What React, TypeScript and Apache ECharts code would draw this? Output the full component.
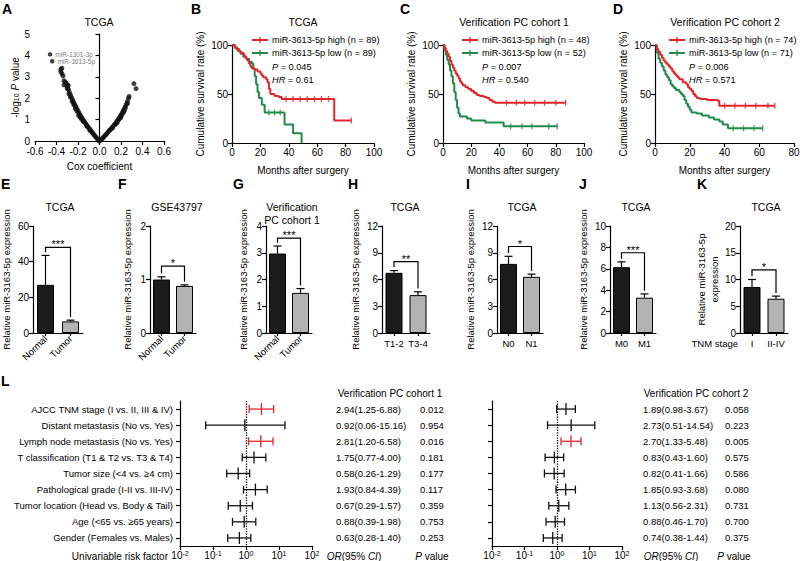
import React, { useEffect, useRef } from 'react';
import * as echarts from 'echarts';

const FONT = '"Liberation Sans", Arial, sans-serif';
const RED = '#e3262b';
const GREEN = '#1e8c4a';
const BLACK = '#1b1b1b';
const GRAY = '#b3b3b3';

// ---------- A: volcano ----------
const A_POINTS: number[][] = [
  [0, 0], [0.01, 0.03], [-0.01, 0.04], [0.02, 0.08], [-0.02, 0.1], [0.03, 0.13], [-0.03, 0.16], [0.04, 0.19],
  [-0.04, 0.22], [0.05, 0.25], [-0.05, 0.28], [0.06, 0.3], [-0.06, 0.35], [0.07, 0.36], [-0.07, 0.41], [0.08, 0.42],
  [-0.08, 0.48], [0.09, 0.48], [-0.09, 0.55], [0.1, 0.53], [-0.1, 0.61], [0.11, 0.59], [-0.11, 0.68], [0.12, 0.65],
  [-0.12, 0.75], [0.13, 0.71], [-0.13, 0.82], [0.14, 0.77], [-0.14, 0.9], [0.15, 0.83], [-0.15, 0.97], [0.16, 0.9],
  [-0.16, 1.05], [0.17, 0.97], [-0.17, 1.13], [0.18, 1.05], [-0.18, 1.22], [0.19, 1.13], [-0.19, 1.31], [0.2, 1.21],
  [-0.2, 1.4], [0.21, 1.3], [-0.21, 1.5], [0.22, 1.4], [-0.22, 1.6], [0.23, 1.5], [-0.23, 1.7], [0.24, 1.61],
  [-0.24, 1.8], [0.25, 1.72], [-0.25, 1.92], [0.26, 1.85], [-0.26, 2.03], [0.27, 2.0], [-0.27, 2.15], [0.275, 2.08],
  [-0.28, 2.28], [-0.29, 2.42], [-0.3, 2.55], [-0.31, 2.65], [-0.32, 2.75], [-0.33, 2.82], [-0.34, 3.05], [-0.35, 3.15],
  [-0.36, 3.25], [-0.36, 3.35], [-0.35, 3.4], [0.32, 2.68], [0.34, 2.45],
  [-0.15, 0.9], [-0.18, 1.1], [-0.21, 1.4], [-0.24, 1.7], [-0.27, 2.05], [-0.3, 2.45], [-0.31, 2.7], [-0.29, 2.6],
  [-0.33, 2.62], [-0.12, 0.7], [-0.09, 0.5], [0.12, 0.6], [0.15, 0.78], [0.18, 1.0], [0.21, 1.25], [0.24, 1.55],
  [0.2, 1.15], [0.23, 1.42], [0.26, 1.75], [-0.165, 1.0], [-0.195, 1.2], [-0.225, 1.52], [-0.255, 1.85],
  [-0.285, 2.2], [0.165, 0.86], [0.195, 1.08], [0.225, 1.35],
];
const A_HIGHLIGHT: number[][] = [[-0.46, 4.05], [-0.44, 3.73]];
const A_HIGHLIGHT_NAMES = ['miR-1301-3p', 'miR-3613-5p'];

// ---------- B-D: Kaplan-Meier ----------
const B_HIGH = [[0, 100], [2, 98], [3, 96], [5, 94], [6, 92], [8, 90], [9, 88], [10, 86], [11, 84], [12, 81], [13, 78], [14, 76], [16, 75], [18, 73], [20, 71], [21, 69], [22, 67], [24, 65], [25, 62], [26, 55], [27, 50], [30, 48], [33, 47], [35, 45], [72, 23], [84, 23]];
const B_LOW = [[0, 100], [2, 97], [4, 94], [6, 91], [8, 88], [10, 86], [12, 83], [14, 81], [15, 76], [16, 68], [17, 60], [18, 52], [19, 46], [21, 39], [23, 31], [37, 19], [43, 10], [49, 0]];
const B_HIGH_CENSOR = [[38, 45], [43, 45], [48, 45], [53, 45], [58, 45], [63, 45], [68, 45], [84, 23]];
const B_LOW_CENSOR = [[26, 31], [30, 31], [34, 31]];
const B_N = [89, 89];
const B_P = '0.045';
const B_HR = '0.61';

const C_HIGH = [[0, 100], [1, 97], [2, 94], [3, 91], [4, 88], [5, 84], [6, 80], [7, 77], [8, 74], [9, 71], [10, 69], [11, 66], [12, 63], [13, 61], [14, 59], [16, 57], [18, 55], [20, 53], [22, 51], [24, 49], [26, 48], [29, 47], [31, 46], [33, 44], [35, 42], [37, 41], [87, 41]];
const C_LOW = [[0, 100], [1, 95], [2, 90], [3, 85], [4, 80], [5, 74], [6, 68], [7, 61], [8, 52], [9, 44], [10, 36], [11, 30], [12, 27], [17, 25], [20, 23], [30, 21], [43, 17], [81, 17]];
const C_HIGH_CENSOR = [[45, 41], [52, 41], [58, 41], [65, 41], [72, 41], [80, 41], [87, 41]];
const C_LOW_CENSOR = [[48, 17], [56, 17], [63, 17], [75, 17], [81, 17]];
const C_N = [48, 52];
const C_P = '0.007';
const C_HR = '0.540';

const D_HIGH = [[0, 100], [1, 96], [2, 93], [3, 90], [4, 87], [5, 84], [6, 82], [7, 80], [8, 78], [9, 76], [10, 73], [11, 71], [12, 69], [13, 67], [14, 65], [16, 62], [18, 60], [19, 57], [20, 55], [21, 53], [22, 50], [23, 48], [24, 46], [26, 45], [30, 44], [36, 43], [37, 38], [69, 38]];
const D_LOW = [[0, 100], [1, 92], [2, 86], [3, 82], [4, 78], [5, 74], [6, 70], [7, 67], [8, 64], [9, 60], [10, 58], [11, 56], [12, 54], [14, 52], [15, 50], [16, 48], [17, 44], [18, 40], [19, 37], [20, 34], [21, 31], [24, 30], [27, 28], [31, 26], [34, 24], [37, 22], [39, 19], [42, 15], [62, 15]];
const D_HIGH_CENSOR = [[40, 38], [46, 38], [52, 38], [58, 38], [65, 38], [69, 38]];
const D_LOW_CENSOR = [[45, 15], [51, 15], [57, 15], [62, 15]];
const D_N = [74, 71];
const D_P = '0.006';
const D_HR = '0.571';

// ---------- E-K: bar charts ----------
const E_CATS = ['Normal', 'Tumor']; const E_MEAN = [27, 6.5]; const E_UPPER = [43.5, 7.2]; const E_BRACKET = 48; const E_SIG = '***';
const F_CATS = ['Normal', 'Tumor']; const F_MEAN = [1.0, 0.88]; const F_UPPER = [1.05, 0.9]; const F_BRACKET = 1.25; const F_SIG = '*';
const G_CATS = ['Normal', 'Tumor']; const G_MEAN = [2.97, 1.5]; const G_UPPER = [3.25, 1.66]; const G_BRACKET = 3.55; const G_SIG = '***';
const H_CATS = ['T1-2', 'T3-4']; const H_MEAN = [6.75, 4.25]; const H_UPPER = [7.0, 4.62]; const H_BRACKET = 8.0; const H_SIG = '**';
const I_CATS = ['N0', 'N1']; const I_MEAN = [7.75, 6.3]; const I_UPPER = [8.6, 6.6]; const I_BRACKET = 9.7; const I_SIG = '*';
const J_CATS = ['M0', 'M1']; const J_MEAN = [6.15, 3.3]; const J_UPPER = [6.65, 3.65]; const J_BRACKET = 7.5; const J_SIG = '***';
const K_CATS = ['I', 'II-IV']; const K_MEAN = [8.6, 6.4]; const K_UPPER = [10.0, 6.9]; const K_BRACKET = 11.8; const K_SIG = '*';

// ---------- L: forest plots ----------
const RISK_FACTORS = [
  'AJCC TNM stage (I vs. II, III & IV)',
  'Distant metastasis (No vs. Yes)',
  'Lymph node metastasis (No vs. Yes)',
  'T classification (T1 & T2 vs. T3 & T4)',
  'Tumor size (<4 vs. ≥4 cm)',
  'Pathological grade (I-II vs. III-IV)',
  'Tumor location (Head vs. Body & Tail)',
  'Age (<65 vs. ≥65 years)',
  'Gender (Females vs. Males)',
];
const C1_OR = [2.94, 0.92, 2.81, 1.75, 0.58, 1.93, 0.67, 0.88, 0.63];
const C1_LOW = [1.25, 0.06, 1.2, 0.77, 0.26, 0.84, 0.29, 0.39, 0.28];
const C1_HIGH = [6.88, 15.16, 6.58, 4.0, 1.29, 4.39, 1.57, 1.98, 1.4];
const C1_P = ['0.012', '0.954', '0.016', '0.181', '0.177', '0.117', '0.359', '0.753', '0.253'];
const C2_OR = [1.89, 2.73, 2.7, 0.83, 0.82, 1.85, 1.13, 0.88, 0.74];
const C2_LOW = [0.98, 0.51, 1.33, 0.43, 0.41, 0.93, 0.56, 0.46, 0.38];
const C2_HIGH = [3.67, 14.54, 5.48, 1.6, 1.66, 3.68, 2.31, 1.7, 1.44];
const C2_P = ['0.058', '0.223', '0.005', '0.575', '0.586', '0.080', '0.731', '0.700', '0.375'];

const LINE = { show: true, lineStyle: { color: '#000', width: 1.2 } };
const TICK = { show: true, length: 4, lineStyle: { color: '#000', width: 1.2 } };
const LABEL = { color: '#000', fontSize: 10, fontFamily: FONT, margin: 4 };
const NAME = { color: '#000', fontSize: 10, fontFamily: FONT };

function buildOption() {
  const grids: any[] = [];
  const xAxes: any[] = [];
  const yAxes: any[] = [];
  const series: any[] = [];
  const graphics: any[] = [];

  const addGrid = (g: any) => {
    grids.push({ ...g, containLabel: false, outerBoundsMode: 'none' });
    return grids.length - 1;
  };
  const text = (x: number, y: number, t: string, o: any = {}) => {
    graphics.push({
      type: 'text', x, y, silent: true,
      style: {
        text: t, fill: o.color || '#000', fontSize: o.size || 10, fontFamily: FONT,
        fontWeight: o.weight || 'normal', fontStyle: o.style || 'normal',
        align: o.align || 'left', textAlign: o.align || 'left',
        verticalAlign: o.valign || 'middle', textVerticalAlign: o.valign || 'middle',
        rich: o.rich,
      },
    });
  };
  const gline = (x1: number, y1: number, x2: number, y2: number, color: string, w = 2) => {
    graphics.push({ type: 'line', silent: true, shape: { x1, y1, x2, y2 }, style: { stroke: color, lineWidth: w } });
  };
  const italRich = (size: number) => ({ i: { fontStyle: 'italic', fontSize: size, fontFamily: FONT, fill: '#000' } });

  // ---- A ----
  const gA = addGrid({ left: 35, top: 34, width: 129, height: 107 });
  const xA = xAxes.push({
    gridIndex: gA, type: 'value', min: -0.6, max: 0.6, interval: 0.2,
    axisLine: LINE, axisTick: TICK, splitLine: { show: false },
    axisLabel: { ...LABEL, margin: 5, formatter: (v: number) => (Math.abs(v) < 1e-9 ? 0 : v).toFixed(1) },
    name: 'Cox coefficient', nameLocation: 'middle', nameGap: 20, nameTextStyle: NAME,
  }) - 1;
  const yA = yAxes.push({
    gridIndex: gA, type: 'value', min: 0, max: 5, interval: 1,
    axisLine: LINE, axisTick: TICK, splitLine: { show: false }, axisLabel: { ...LABEL, margin: 5 },
    name: '-log{s|10} {i|P} value', nameLocation: 'middle', nameGap: 15,
    nameTextStyle: { ...NAME, rich: { s: { fontSize: 7, fontFamily: FONT, verticalAlign: 'bottom' }, i: { fontStyle: 'italic', fontSize: 10, fontFamily: FONT } } },
  }) - 1;
  series.push({
    type: 'scatter', xAxisIndex: xA, yAxisIndex: yA, data: A_POINTS, symbolSize: 5,
    itemStyle: { color: '#111' }, silent: true,
  });
  series.push({
    type: 'scatter', xAxisIndex: xA, yAxisIndex: yA, symbolSize: 4.5, itemStyle: { color: '#111' },
    data: A_HIGHLIGHT.map((p, i) => ({ value: p, name: A_HIGHLIGHT_NAMES[i] })),
    label: { show: true, position: 'right', distance: 3, formatter: '{b}', fontSize: 6.5, color: '#555', fontFamily: FONT },
  });

  // ---- KM ----
  const addKM = (left: number, width: number, xMax: number, high: number[][], low: number[][], hc: number[][], lc: number[][]) => {
    const g = addGrid({ left, top: 45, width, height: 98 });
    const xi = xAxes.push({
      gridIndex: g, type: 'value', min: 0, max: xMax, interval: 20,
      axisLine: LINE, axisTick: TICK, splitLine: { show: false }, axisLabel: LABEL,
      name: 'Months after surgery', nameLocation: 'middle', nameGap: 22, nameTextStyle: NAME,
    }) - 1;
    const yi = yAxes.push({
      gridIndex: g, type: 'value', min: 0, max: 100, interval: 50,
      axisLine: LINE, axisTick: TICK, splitLine: { show: false }, axisLabel: LABEL,
      name: 'Cumulative survival rate (%)', nameLocation: 'middle', nameGap: 27, nameTextStyle: NAME,
    }) - 1;
    const curve = (data: number[][], color: string, cens: number[][]) => {
      series.push({
        type: 'line', xAxisIndex: xi, yAxisIndex: yi, data, step: 'end', showSymbol: false, silent: true,
        lineStyle: { color, width: 2 }, itemStyle: { color },
      });
      series.push({
        type: 'scatter', xAxisIndex: xi, yAxisIndex: yi, data: cens, symbol: 'rect', symbolSize: [1.3, 6],
        itemStyle: { color }, silent: true,
      });
    };
    curve(low, GREEN, lc);
    curve(high, RED, hc);
  };
  addKM(232, 142, 100, B_HIGH, B_LOW, B_HIGH_CENSOR, B_LOW_CENSOR);
  addKM(443, 141, 100, C_HIGH, C_LOW, C_HIGH_CENSOR, C_LOW_CENSOR);
  addKM(655, 139, 80, D_HIGH, D_LOW, D_HIGH_CENSOR, D_LOW_CENSOR);

  const LEG = 9.2;
  const kmLegend = (x: number, n: number[], p: string, hr: string) => {
    gline(x, 40, x + 16, 40, RED);
    gline(x + 8, 37, x + 8, 43, RED, 1.3);
    gline(x, 53, x + 16, 53, GREEN);
    gline(x + 8, 50, x + 8, 56, GREEN, 1.3);
    text(x + 20, 40, `miR-3613-5p high (n = ${n[0]})`, { size: LEG });
    text(x + 20, 53, `miR-3613-5p low (n = ${n[1]})`, { size: LEG });
    text(x + 20, 67, `{i|P} = ${p}`, { rich: italRich(LEG), size: LEG });
    text(x + 20, 80, `{i|HR} = ${hr}`, { rich: italRich(LEG), size: LEG });
  };
  kmLegend(252, B_N, B_P, B_HR);
  kmLegend(462, C_N, C_P, C_HR);
  kmLegend(669, D_N, D_P, D_HR);

  // ---- Bars ----
  const addBars = (left: number, width: number, cats: string[], mean: number[], upper: number[], yMax: number, yInt: number,
    bracket: number, sig: string, rotate: boolean, twoLine: boolean) => {
    const g = addGrid({ left, top: 226, width, height: 107 });
    const xi = xAxes.push({
      gridIndex: g, type: 'category', data: cats,
      axisLine: LINE, axisTick: { ...TICK, length: 3, alignWithLabel: true }, splitLine: { show: false },
      axisLabel: { ...LABEL, fontSize: 9.5, interval: 0, rotate: rotate ? 45 : 0, margin: rotate ? 4 : 5 },
    }) - 1;
    const yi = yAxes.push({
      gridIndex: g, type: 'value', min: 0, max: yMax, interval: yInt,
      axisLine: LINE, axisTick: TICK, splitLine: { show: false }, axisLabel: LABEL,
      name: twoLine ? 'Relative miR-3163-5p\nexpression' : 'Relative miR-3163-5p expression',
      nameLocation: 'middle', nameGap: twoLine ? 17 : (yMax >= 10 ? 20 : 16), nameTextStyle: { ...NAME, fontSize: 9.5, lineHeight: 13 },
    }) - 1;
    series.push({
      type: 'bar', xAxisIndex: xi, yAxisIndex: yi, barWidth: 17, silent: true,
      itemStyle: { borderColor: '#000', borderWidth: 1 },
      data: mean.map((v, i) => ({ value: v, itemStyle: { color: i === 0 ? BLACK : GRAY, borderColor: '#000', borderWidth: 1 } })),
    });
    series.push({
      type: 'custom', xAxisIndex: xi, yAxisIndex: yi, silent: true, z: 5,
      encode: { x: 0, y: 1 },
      data: mean.map((m, i) => [i, m, upper[i]]),
      renderItem: (_p: any, api: any) => {
        const x = api.value(0);
        const p0 = api.coord([x, api.value(1)]);
        const p1 = api.coord([x, api.value(2)]);
        const st = { stroke: '#000', lineWidth: 1.2 };
        return {
          type: 'group', children: [
            { type: 'line', shape: { x1: p0[0], y1: p0[1], x2: p1[0], y2: p1[1] }, style: st },
            { type: 'line', shape: { x1: p1[0] - 4, y1: p1[1], x2: p1[0] + 4, y2: p1[1] }, style: st },
          ],
        };
      },
    });
    const gap = yMax * 0.03;
    series.push({
      type: 'custom', xAxisIndex: xi, yAxisIndex: yi, silent: true, z: 5,
      encode: { x: 0, y: 1 },
      data: [[0, bracket, upper[0] + gap, upper[1] + gap]],
      renderItem: (_p: any, api: any) => {
        const top = api.value(1);
        const a = api.coord([0, api.value(2)]);
        const b = api.coord([0, top]);
        const c = api.coord([1, top]);
        const d = api.coord([1, api.value(3)]);
        return {
          type: 'group', children: [
            { type: 'polyline', shape: { points: [a, b, c, d] }, style: { stroke: '#000', lineWidth: 1.2, fill: 'none' } },
            { type: 'text', x: (b[0] + c[0]) / 2, y: b[1] - 3, style: { text: sig, fill: '#000', fontSize: 11, fontFamily: FONT, align: 'center', verticalAlign: 'middle' } },
          ],
        };
      },
    });
  };
  addBars(33, 50, E_CATS, E_MEAN, E_UPPER, 60, 20, E_BRACKET, E_SIG, true, false);
  addBars(150, 46, F_CATS, F_MEAN, F_UPPER, 2, 1, F_BRACKET, F_SIG, true, false);
  addBars(266, 46, G_CATS, G_MEAN, G_UPPER, 4, 1, G_BRACKET, G_SIG, true, false);
  addBars(382, 48, H_CATS, H_MEAN, H_UPPER, 12, 3, H_BRACKET, H_SIG, false, false);
  addBars(497, 46, I_CATS, I_MEAN, I_UPPER, 12, 3, I_BRACKET, I_SIG, false, false);
  addBars(610, 46, J_CATS, J_MEAN, J_UPPER, 10, 2, J_BRACKET, J_SIG, false, false);
  addBars(740, 48, K_CATS, K_MEAN, K_UPPER, 20, 5, K_BRACKET, K_SIG, false, true);
  text(738, 343, 'TNM stage', { align: 'right', size: 9.5 });

  // ---- Forest ----
  const addForest = (left: number, width: number, or: number[], lo: number[], hi: number[], p: string[],
    showLabels: boolean, orGap: number, pOffset: number) => {
    const g = addGrid({ left, top: 401, width, height: 145 });
    const xi = xAxes.push({
      gridIndex: g, type: 'log', logBase: 10, min: 0.01, max: 100,
      axisLine: LINE, axisTick: TICK, splitLine: { show: false }, minorTick: { show: false },
      axisLabel: {
        ...LABEL, margin: 4,
        formatter: (v: number) => '10{s|' + Math.round(Math.log10(v)) + '}',
        rich: { s: { fontSize: 7, fontFamily: FONT, verticalAlign: 'top', lineHeight: 8 } },
      },
    }) - 1;
    const yi = yAxes.push({
      gridIndex: g, type: 'category', inverse: true, data: RISK_FACTORS,
      axisLine: LINE, axisTick: { ...TICK, alignWithLabel: true }, splitLine: { show: false },
      axisLabel: { ...LABEL, show: showLabels, fontSize: 9.5, margin: 7, interval: 0 },
    }) - 1;
    yAxes.push({
      gridIndex: g, type: 'category', position: 'right', inverse: true,
      data: or.map((v, i) => `${v.toFixed(2)}(${lo[i].toFixed(2)}-${hi[i].toFixed(2)})`),
      axisLine: { show: false }, axisTick: { show: false }, splitLine: { show: false },
      axisLabel: { ...LABEL, fontSize: 9.5, margin: orGap, interval: 0 },
    });
    yAxes.push({
      gridIndex: g, type: 'category', position: 'right', offset: pOffset, inverse: true, data: p,
      axisLine: { show: false }, axisTick: { show: false }, splitLine: { show: false },
      axisLabel: { ...LABEL, fontSize: 9.5, margin: 0, interval: 0 },
    });
    series.push({
      type: 'custom', xAxisIndex: xi, yAxisIndex: yi, silent: true,
      encode: { x: 0, y: 1 },
      data: or.map((v, i) => [v, i, lo[i], hi[i], parseFloat(p[i]) < 0.05 ? 1 : 0]),
      renderItem: (_p: any, api: any) => {
        const row = api.value(1);
        const c = api.coord([api.value(0), row]);
        const l = api.coord([api.value(2), row]);
        const h = api.coord([api.value(3), row]);
        const st = { stroke: api.value(4) ? RED : '#111', lineWidth: 1.3 };
        return {
          type: 'group', children: [
            { type: 'line', shape: { x1: l[0], y1: l[1], x2: h[0], y2: h[1] }, style: st },
            { type: 'line', shape: { x1: l[0], y1: l[1] - 4, x2: l[0], y2: l[1] + 4 }, style: st },
            { type: 'line', shape: { x1: h[0], y1: h[1] - 4, x2: h[0], y2: h[1] + 4 }, style: st },
            { type: 'line', shape: { x1: c[0], y1: c[1] - 6, x2: c[0], y2: c[1] + 6 }, style: st },
          ],
        };
      },
      markLine: {
        silent: true, symbol: ['none', 'none'], label: { show: false },
        lineStyle: { type: 'dotted', color: '#000', width: 1.3 },
        data: [{ xAxis: 1 }],
      },
    });
  };
  addForest(180, 132, C1_OR, C1_LOW, C1_HIGH, C1_P, true, 24, 108);
  addForest(492, 130, C2_OR, C2_LOW, C2_HIGH, C2_P, false, 21, 103);

  const ITAL = italRich(10);
  text(390, 393, 'Verification PC cohort 1', { align: 'center' });
  text(696, 393, 'Verification PC cohort 2', { align: 'center' });
  text(168, 556, 'Univariable risk factor', { align: 'right' });
  text(354, 556, '{i|OR}(95% {i|CI})', { align: 'center', rich: ITAL });
  text(432, 556, '{i|P} value', { align: 'center', rich: ITAL });
  text(671, 556, '{i|OR}(95% {i|CI})', { align: 'center', rich: ITAL });
  text(734, 556, '{i|P} value', { align: 'center', rich: ITAL });

  // ---- titles ----
  text(99, 22, 'TCGA', { align: 'center', size: 10.5 });
  text(303, 22, 'TCGA', { align: 'center', size: 10.5 });
  text(514, 22, 'Verification PC cohort 1', { align: 'center', size: 10.5 });
  text(725, 22, 'Verification PC cohort 2', { align: 'center', size: 10.5 });
  text(60, 207, 'TCGA', { align: 'center', size: 10.5 });
  text(177, 207, 'GSE43797', { align: 'center', size: 10.5 });
  text(292, 207, 'Verification', { align: 'center', size: 10.5 });
  text(292, 220, 'PC cohort 1', { align: 'center', size: 10.5 });
  text(405, 207, 'TCGA', { align: 'center', size: 10.5 });
  text(522, 207, 'TCGA', { align: 'center', size: 10.5 });
  text(636, 207, 'TCGA', { align: 'center', size: 10.5 });
  text(766, 207, 'TCGA', { align: 'center', size: 10.5 });

  // ---- panel letters ----
  const letters: [string, number, number][] = [
    ['A', 2, 9], ['B', 191, 9], ['C', 400, 9], ['D', 613, 9],
    ['E', 1, 184], ['F', 118, 184], ['G', 233, 184], ['H', 348, 184], ['I', 466, 184], ['J', 579, 184], ['K', 697, 184],
    ['L', 1, 381],
  ];
  letters.forEach(([t, x, y]) => text(x, y, t, { size: 14, weight: 'bold' }));

  return {
    animation: false,
    backgroundColor: '#fff',
    textStyle: { fontFamily: FONT },
    grid: grids,
    xAxis: xAxes,
    yAxis: yAxes,
    series,
    graphic: { elements: graphics },
  };
}

export default function App() {
  const ref = useRef<HTMLDivElement>(null);
  useEffect(() => {
    if (!ref.current) return;
    const chart = echarts.init(ref.current, undefined, { renderer: 'svg' });
    chart.setOption(buildOption() as any);
    return () => chart.dispose();
  }, []);
  return <div ref={ref} style={{ position: 'absolute', left: 0, top: 0, width: 800, height: 561, background: '#fff' }} />;
}
